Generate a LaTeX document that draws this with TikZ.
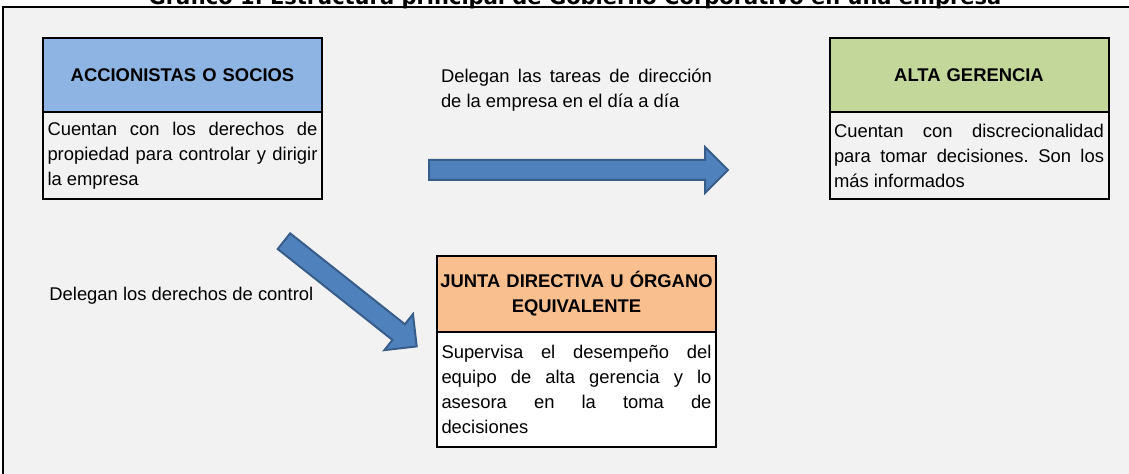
\documentclass[tikz,border=0pt]{standalone}
\usepackage{fontspec}
\setmainfont{Liberation Sans}
\newfontfamily\titlefont{DejaVu Sans}
\usetikzlibrary{positioning,shapes.arrows}
\definecolor{FrameGray}{RGB}{242,242,242}
\definecolor{HeadBlue}{RGB}{141,180,226}
\definecolor{HeadGreen}{RGB}{196,215,155}
\definecolor{HeadOrange}{RGB}{250,191,143}
\definecolor{ArrowBlue}{RGB}{79,129,189}
\definecolor{ArrowLine}{RGB}{56,93,138}
\tolerance=10000
\hyphenpenalty=10000
\frenchspacing

\begin{document}
\begin{tikzpicture}[x=0.5pt,y=-0.5pt,
    header/.style={draw=black,line width=1pt,outer sep=0pt,inner xsep=0pt,inner ysep=2pt,
      text width=139.5pt,minimum width=139.5pt,minimum height=37pt,align=center,
      font=\fontsize{9.2}{12.5}\selectfont\bfseries},
    body/.style={draw=black,line width=1pt,outer sep=0pt,inner xsep=2.25pt,inner ysep=2pt,
      text width=135pt,minimum width=139.5pt,align=justify,
      font=\fontsize{9.2}{12.5}\selectfont},
    remark/.style={inner sep=0pt,font=\fontsize{9.2}{12.5}\selectfont},
    bigarrow/.style={single arrow,draw=ArrowLine,fill=ArrowBlue,line width=1pt,
      inner sep=4.5pt,single arrow head extend=6.5pt}]
    \clip (0,0) rectangle (1129,474);
    \fill[white] (0,0) rectangle (1129,474);
    \draw[fill=FrameGray,line width=1pt] (3,7) rectangle (1140,490);
    \node[anchor=base,inner sep=0pt,font=\titlefont\fontsize{10.5}{12}\selectfont\bfseries] (titulo) at (575,5) {Gráfico 1. Estructura principal de Gobierno Corporativo en una empresa};

    \node[header,fill=HeadBlue] (accionistas) at (182.5,75) {ACCIONISTAS O SOCIOS};
    \node[body,fill=FrameGray,minimum height=43.5pt,below=0pt of accionistas] (accionistasbody) {Cuentan con los derechos de propiedad para controlar y dirigir la empresa};

    \node[header,fill=HeadGreen] (gerencia) at (969,75) {ALTA GERENCIA};
    \node[body,fill=FrameGray,minimum height=43.5pt,below=0pt of gerencia] (gerenciabody) {Cuentan con discrecionalidad para tomar decisiones. Son los más informados};

    \node[header,fill=HeadOrange,minimum height=38pt] (junta) at (576.5,294) {JUNTA DIRECTIVA U ÓRGANO\\EQUIVALENTE};
    \node[body,fill=white,minimum height=57.5pt,below=0pt of junta] (juntabody) {Supervisa el desempeño del\linebreak equipo de alta gerencia y lo\linebreak asesora en la toma de\linebreak decisiones};

    % flechas
    \node[bigarrow,minimum height=149.5pt] (flechagerencia) at (573.5,170) {};
    \node[bigarrow,minimum height=84.7pt,rotate=-38.4] (flechajunta) at (346.4,290.7) {};

    \node[remark,text width=135.5pt,align=justify] (tareas) at (576.5,90.5) {Delegan las tareas de dirección de la empresa en el día a día};
    \node[remark,anchor=west] (control) at (49,296) {Delegan los derechos de control};
\end{tikzpicture}
\end{document}
